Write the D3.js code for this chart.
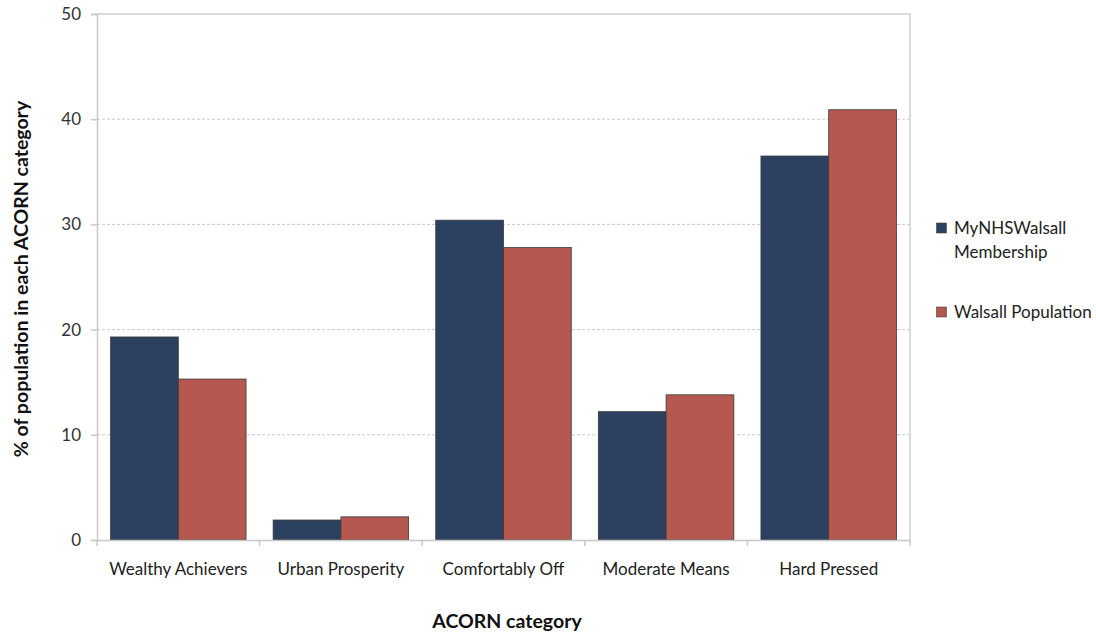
<!DOCTYPE html>
<html>
<head>
<meta charset="utf-8">
<script src="https://cdn.jsdelivr.net/npm/d3@7"></script>
<style>
  html, body { margin: 0; padding: 0; background: #fff; }
  svg { display: block; font-family: Lato, "Open Sans", sans-serif; }
</style>
</head>
<body>
<svg id="chart" width="1096" height="634"></svg>
<script>
// ACORN categories and the share of people in each
const categories = ["Wealthy Achievers", "Urban Prosperity", "Comfortably Off", "Moderate Means", "Hard Pressed"];
const membership = [19.3, 1.9, 30.4, 12.2, 36.5];
const population = [15.3, 2.2, 27.8, 13.8, 40.9];
const seriesNames = ["MyNHSWalsall Membership", "Walsall Population"];
const seriesColors = ["#2c405f", "#b5584f"];
const yTicks = [0, 10, 20, 30, 40, 50];

const svg = d3.select("#chart");
const plot = { left: 97, right: 910, top: 14, bottom: 540 };

const x = d3.scaleBand().domain(categories).range([plot.left, plot.right]).paddingInner(0).paddingOuter(0);
const x1 = d3.scaleBand().domain([0, 1]).range([0, x.bandwidth()]).paddingOuter(0.2).paddingInner(0);
const y = d3.scaleLinear().domain([0, 50]).range([plot.bottom, plot.top]);

// grid lines
svg.append("g").selectAll("line").data(yTicks.filter(d => d > 0 && d < 50)).join("line")
  .attr("x1", plot.left).attr("x2", plot.right)
  .attr("y1", d => y(d)).attr("y2", d => y(d))
  .attr("stroke", "#c8c8c8").attr("stroke-width", 1).attr("stroke-dasharray", "3,2");

// plot frame (top and right)
svg.append("path")
  .attr("d", `M${plot.left},${plot.top}H${plot.right}V${plot.bottom}`)
  .attr("fill", "none").attr("stroke", "#d0d0d0").attr("stroke-width", 1.5);

// bars
const rows = categories.map((c, i) => ({ c, v: [membership[i], population[i]] }));
const groups = svg.append("g").selectAll("g").data(rows).join("g")
  .attr("transform", d => `translate(${x(d.c)},0)`);
groups.selectAll("rect").data(d => d.v.map((v, k) => ({ v, k }))).join("rect")
  .attr("x", d => x1(d.k))
  .attr("width", x1.bandwidth())
  .attr("y", d => y(d.v))
  .attr("height", d => y(0) - y(d.v))
  .attr("fill", d => seriesColors[d.k])
  .attr("stroke", "#3a3a3a").attr("stroke-width", 0.8);

// y axis
const yAxis = svg.append("g").attr("transform", `translate(${plot.left},0)`)
  .call(d3.axisLeft(y).tickValues(yTicks).tickSize(6).tickPadding(10));
yAxis.select(".domain").attr("stroke", "#c8c8c8").attr("stroke-width", 1.5);
yAxis.selectAll(".tick line").attr("stroke", "#c8c8c8").attr("stroke-width", 1.5);
yAxis.selectAll(".tick text").attr("font-size", 17).attr("fill", "#333").attr("font-family", "Lato, sans-serif");

// x axis with ticks at category boundaries
const xAxis = svg.append("g").attr("transform", `translate(0,${plot.bottom})`)
  .call(d3.axisBottom(x).tickSize(0).tickPadding(23));
xAxis.select(".domain").attr("stroke", "#c8c8c8").attr("stroke-width", 1.5);
xAxis.selectAll(".tick text").attr("font-size", 17).attr("fill", "#222").attr("font-family", "Lato, sans-serif");
svg.append("g").selectAll("line").data(categories.map(c => x(c)).concat([plot.right])).join("line")
  .attr("x1", d => d).attr("x2", d => d)
  .attr("y1", plot.bottom).attr("y2", plot.bottom + 6)
  .attr("stroke", "#c8c8c8").attr("stroke-width", 1.5);

// axis titles
svg.append("text")
  .attr("transform", "translate(28,279) rotate(-90)")
  .attr("text-anchor", "middle").attr("font-size", 19.5).attr("font-weight", "bold").attr("fill", "#111")
  .text("% of population in each ACORN category");
svg.append("text")
  .attr("x", 507).attr("y", 628)
  .attr("text-anchor", "middle").attr("font-size", 19.5).attr("font-weight", "bold").attr("fill", "#111")
  .text("ACORN category");

// legend
const legend = svg.append("g").attr("transform", "translate(936,0)");
const legendItems = [
  { lines: ["MyNHSWalsall", "Membership"], y: 234 },
  { lines: ["Walsall Population"], y: 318 }
];
legendItems.forEach((item, k) => {
  legend.append("rect").attr("x", 0.5).attr("y", item.y - 11).attr("width", 10).attr("height", 10)
    .attr("fill", seriesColors[k]).attr("stroke", "#444").attr("stroke-width", 0.6);
  item.lines.forEach((t, j) => {
    legend.append("text").attr("x", 18).attr("y", item.y + j * 24)
      .attr("font-size", 17).attr("fill", "#222").text(t);
  });
});
</script>
</body>
</html>
